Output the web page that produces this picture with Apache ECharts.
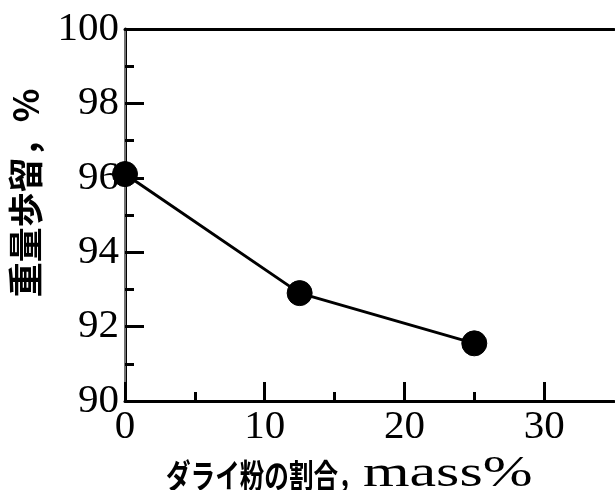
<!DOCTYPE html>
<html>
<head>
<meta charset="utf-8">
<script src="https://cdn.jsdelivr.net/npm/echarts@6/dist/echarts.min.js"></script>
<style>html,body{margin:0;padding:0;background:#fff;}#c{width:615px;height:490px;}</style>
</head>
<body>
<div id="c"></div>
<script>
var xValues = [0, 12.5, 25];
var yieldValues = [96.1, 92.9, 91.55];
var xMajorTicks = [0, 10, 20, 30];
var xMinorTicks = [5, 15, 25];
var yTickLabels = [90, 92, 94, 96, 98, 100];
var xAxisTitleJa = 'ダライ粉の割合';
var xAxisTitleSep = '，';
var xAxisTitleEn = 'mass%';
var yAxisTitle = '重量歩留，%';

var serif = '"Liberation Serif", "Times New Roman", serif';
var jp = '"Noto Sans CJK JP", "Noto Sans", sans-serif';

var chart = echarts.init(document.getElementById('c'));
chart.setOption({
  animation: false,
  backgroundColor: '#fff',
  grid: { left: 125, right: 1, top: 29, bottom: 89, containLabel: false },
  xAxis: [
    {
      type: 'value', min: 0, max: 35, interval: 5, position: 'bottom',
      axisLine: { show: true, onZero: false, lineStyle: { color: '#000', width: 3 } },
      axisTick: { show: true, inside: true, length: 19, customValues: xMajorTicks, lineStyle: { color: '#000', width: 3 } },
      axisLabel: { show: true, customValues: xMajorTicks, margin: 6, color: '#000', fontFamily: serif, fontSize: 41 },
      splitLine: { show: false }
    },
    {
      type: 'value', min: 0, max: 35, interval: 5, position: 'bottom',
      axisLine: { show: false },
      axisTick: { show: true, inside: true, length: 9, customValues: xMinorTicks, lineStyle: { color: '#000', width: 3 } },
      axisLabel: { show: false },
      splitLine: { show: false }
    },
    {
      type: 'value', min: 0, max: 35, position: 'top',
      axisLine: { show: true, lineStyle: { color: '#000', width: 3 } },
      axisTick: { show: false }, axisLabel: { show: false }, splitLine: { show: false }
    }
  ],
  yAxis: [
    {
      type: 'value', min: 90, max: 100, interval: 2, position: 'left',
      axisLine: { show: true, onZero: false, lineStyle: { color: '#000', width: 3 } },
      axisTick: { show: true, inside: true, length: 19, lineStyle: { color: '#000', width: 3 } },
      minorTick: { show: true, splitNumber: 2, length: 9, lineStyle: { color: '#000', width: 3 } },
      axisLabel: {
        show: true, margin: 6, color: '#000', fontFamily: serif, fontSize: 41,
        customValues: yTickLabels
      },
      splitLine: { show: false }, minorSplitLine: { show: false }
    },
    {
      type: 'value', min: 90, max: 100, position: 'right',
      axisLine: { show: true, lineStyle: { color: '#999', width: 1.5 } },
      axisTick: { show: false }, axisLabel: { show: false }, splitLine: { show: false }
    }
  ],
  graphic: [
    {
      type: 'text', x: 26, y: 193, rotation: Math.PI / 2,
      style: { text: yAxisTitle, font: 'bold 35px ' + jp, fill: '#000', textAlign: 'center', textVerticalAlign: 'middle', verticalAlign: 'middle' }
    },
    {
      type: 'text', x: 166, y: 475, scaleX: 0.745,
      style: { text: xAxisTitleJa, font: 'bold 33px ' + jp, fill: '#000', textAlign: 'left', textVerticalAlign: 'middle', verticalAlign: 'middle' }
    },
    {
      type: 'text', x: 338, y: 475, scaleX: 0.745,
      style: { text: xAxisTitleSep, font: 'bold 33px ' + jp, fill: '#000', textAlign: 'left', textVerticalAlign: 'middle', verticalAlign: 'middle' }
    },
    {
      type: 'text', x: 363, y: 474, scaleX: 1.36,
      style: { text: xAxisTitleEn, font: '44px ' + serif, fill: '#000', textAlign: 'left', textVerticalAlign: 'middle', verticalAlign: 'middle' }
    }
  ],
  series: [{
    type: 'line',
    xAxisIndex: 0, yAxisIndex: 0,
    data: xValues.map(function (x, i) { return [x, yieldValues[i]]; }),
    clip: false,
    symbol: 'circle', symbolSize: 25, showAllSymbol: true,
    lineStyle: { color: '#000', width: 3 },
    itemStyle: { color: '#000', borderColor: '#000' },
    z: 5
  }]
});
</script>
</body>
</html>
